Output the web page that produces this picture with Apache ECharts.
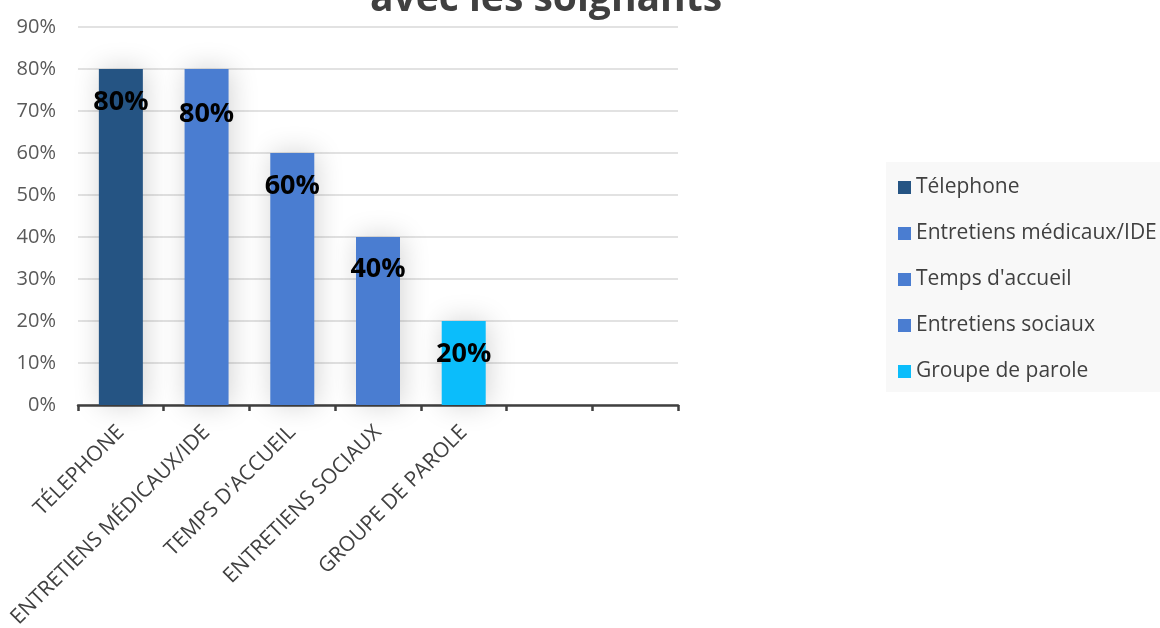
<!DOCTYPE html>
<html>
<head>
<meta charset="utf-8">
<script src="https://cdn.jsdelivr.net/npm/echarts@6/dist/echarts.min.js"></script>
<style>
html,body{margin:0;padding:0;background:#fff;}
#c{width:1160px;height:628px;}
</style>
</head>
<body>
<div id="c"></div>
<script>
const categories = ['TÉLEPHONE', 'ENTRETIENS MÉDICAUX/IDE', "TEMPS D'ACCUEIL", 'ENTRETIENS SOCIAUX', 'GROUPE DE PAROLE', '', ''];
const seriesNames = ['Télephone', 'Entretiens médicaux/IDE', "Temps d'accueil", 'Entretiens sociaux', 'Groupe de parole'];
const values = [80, 80, 60, 40, 20];
const colors = ['#255483', '#4a7dd1', '#4a7dd1', '#4a7dd1', '#0bbdfb'];
const labelOffsets = [15, 27, 15, 14, 15];
const yTicks = [0, 10, 20, 30, 40, 50, 60, 70, 80, 90];

const font = 'Open Sans';
const series = seriesNames.map((name, i) => ({
  name: name,
  type: 'bar',
  stack: 'all',
  barWidth: 44,
  itemStyle: {
    color: colors[i],
    shadowBlur: 28,
    shadowColor: 'rgba(0,0,0,0.18)',
    shadowOffsetX: 2,
    shadowOffsetY: 0
  },
  label: {
    show: true,
    position: 'insideTop',
    offset: [0, labelOffsets[i]],
    formatter: '{c}%',
    color: '#000',
    fontFamily: font,
    fontWeight: 'bold',
    fontSize: 27
  },
  data: categories.map((c, j) => (j === i ? values[i] : '-'))
}));

const chart = echarts.init(document.getElementById('c'));
chart.setOption({
  animation: false,
  title: {
    text: 'avec les soignants',
    left: 370,
    top: -20,
    padding: 0,
    textStyle: { fontFamily: font, fontWeight: 'bold', fontSize: 39, color: '#404040' }
  },
  legend: {
    orient: 'vertical',
    left: 886,
    top: 162,
    padding: [15, 12, 10, 12],
    backgroundColor: '#f8f8f8',
    itemWidth: 13,
    itemHeight: 13,
    itemGap: 25,
    icon: 'rect',
    textStyle: { fontFamily: font, fontSize: 21, color: '#404040' },
    data: seriesNames
  },
  grid: { left: 78, right: 482, top: 27, bottom: 223, containLabel: false, outerBoundsMode: 'none' },
  xAxis: {
    type: 'category',
    data: categories,
    boundaryGap: true,
    axisLine: { lineStyle: { color: '#404040', width: 2.5 } },
    axisTick: { show: true, length: 6, lineStyle: { color: '#404040', width: 2.5 } },
    axisLabel: { interval: 0, rotate: 45, fontFamily: font, fontSize: 21, color: '#404040', margin: 24 }
  },
  yAxis: {
    type: 'value',
    min: yTicks[0],
    max: yTicks[yTicks.length - 1],
    interval: 10,
    axisLine: { show: false },
    axisTick: { show: false },
    axisLabel: { formatter: '{value}%', fontFamily: font, fontSize: 20, color: '#595959', margin: 22 },
    splitLine: { lineStyle: { color: '#d9d9d9', width: 1.5 } }
  },
  series: series
});
</script>
</body>
</html>
